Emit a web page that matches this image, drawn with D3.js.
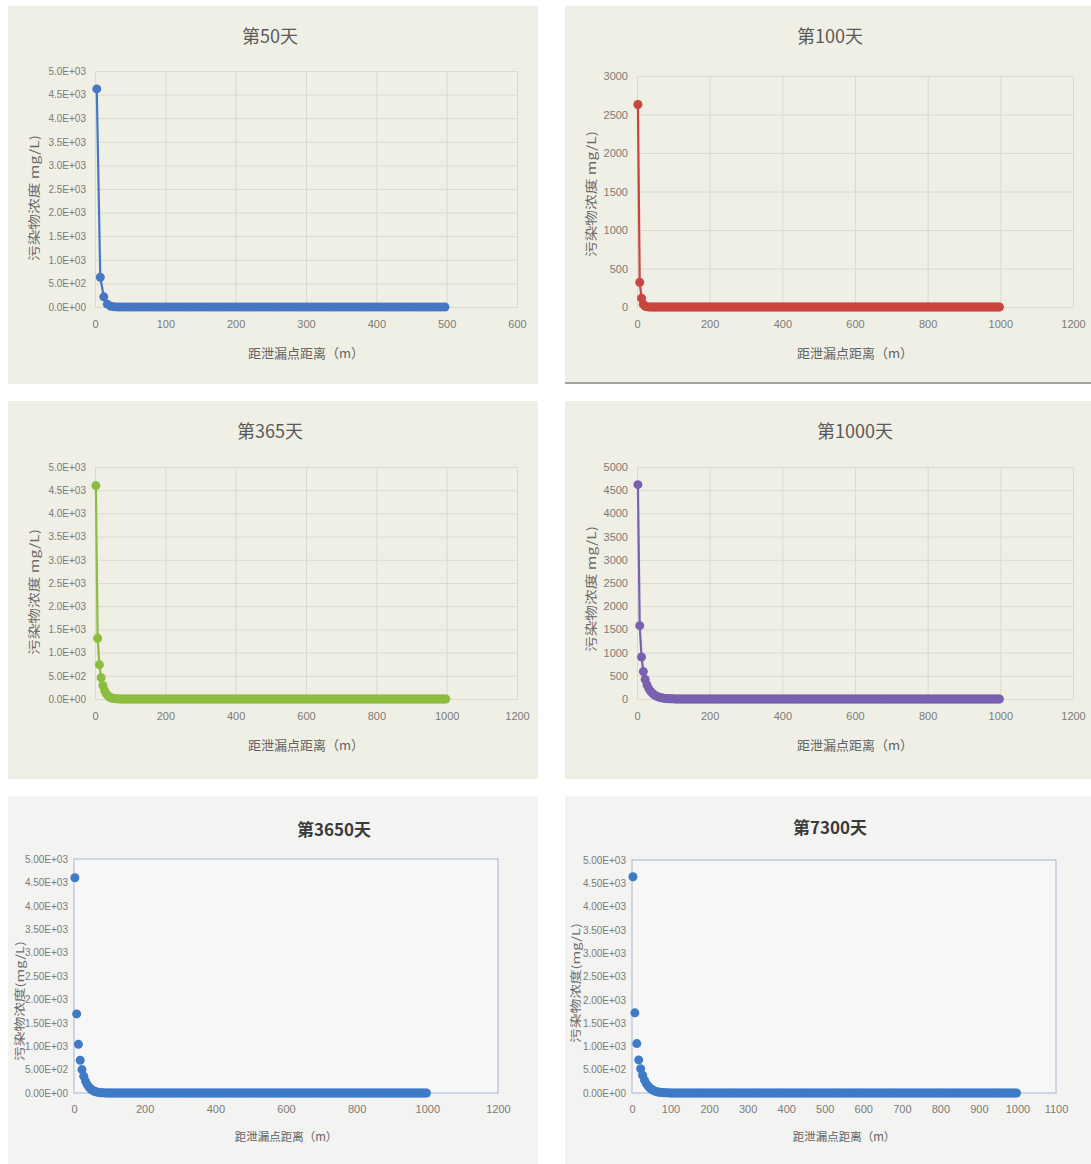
<!DOCTYPE html>
<html>
<head>
<meta charset="utf-8">
<script src="https://cdn.jsdelivr.net/npm/d3@7"></script>
<style>
  body { margin: 0; background: #ffffff; }
  svg { display: block; }
</style>
</head>
<body>
<svg id="chart" width="1091" height="1164"></svg>
<script>
// Pollutant concentration (mg/L) along the flow path, sampled every 5 m,
// first sample 2.5 m from the leak point.
const firstDistance = 2.5;
const distanceStep = 5;

const day50 = [
  4620,630,215,60,15,4,1,0,0,0,
  0,0,0,0,0,0,0,0,0,0,
  0,0,0,0,0,0,0,0,0,0,
  0,0,0,0,0,0,0,0,0,0,
  0,0,0,0,0,0,0,0,0,0,
  0,0,0,0,0,0,0,0,0,0,
  0,0,0,0,0,0,0,0,0,0,
  0,0,0,0,0,0,0,0,0,0,
  0,0,0,0,0,0,0,0,0,0,
  0,0,0,0,0,0,0,0,0,0
];

const day100 = [
  2630,320,115,35,10,3,1,0,0,0,
  0,0,0,0,0,0,0,0,0,0,
  0,0,0,0,0,0,0,0,0,0,
  0,0,0,0,0,0,0,0,0,0,
  0,0,0,0,0,0,0,0,0,0,
  0,0,0,0,0,0,0,0,0,0,
  0,0,0,0,0,0,0,0,0,0,
  0,0,0,0,0,0,0,0,0,0,
  0,0,0,0,0,0,0,0,0,0,
  0,0,0,0,0,0,0,0,0,0,
  0,0,0,0,0,0,0,0,0,0,
  0,0,0,0,0,0,0,0,0,0,
  0,0,0,0,0,0,0,0,0,0,
  0,0,0,0,0,0,0,0,0,0,
  0,0,0,0,0,0,0,0,0,0,
  0,0,0,0,0,0,0,0,0,0,
  0,0,0,0,0,0,0,0,0,0,
  0,0,0,0,0,0,0,0,0,0,
  0,0,0,0,0,0,0,0,0,0,
  0,0,0,0,0,0,0,0,0,0
];

const day365 = [
  4600,1310,740,460,290,180,110,65,38,22,
  12,7,4,2,1,0,0,0,0,0,
  0,0,0,0,0,0,0,0,0,0,
  0,0,0,0,0,0,0,0,0,0,
  0,0,0,0,0,0,0,0,0,0,
  0,0,0,0,0,0,0,0,0,0,
  0,0,0,0,0,0,0,0,0,0,
  0,0,0,0,0,0,0,0,0,0,
  0,0,0,0,0,0,0,0,0,0,
  0,0,0,0,0,0,0,0,0,0,
  0,0,0,0,0,0,0,0,0,0,
  0,0,0,0,0,0,0,0,0,0,
  0,0,0,0,0,0,0,0,0,0,
  0,0,0,0,0,0,0,0,0,0,
  0,0,0,0,0,0,0,0,0,0,
  0,0,0,0,0,0,0,0,0,0,
  0,0,0,0,0,0,0,0,0,0,
  0,0,0,0,0,0,0,0,0,0,
  0,0,0,0,0,0,0,0,0,0,
  0,0,0,0,0,0,0,0,0,0
];

const day1000 = [
  4620,1580,905,590,420,305,225,165,122,90,
  66,48,35,25,18,13,9,6,4,3,
  2,1,1,0,0,0,0,0,0,0,
  0,0,0,0,0,0,0,0,0,0,
  0,0,0,0,0,0,0,0,0,0,
  0,0,0,0,0,0,0,0,0,0,
  0,0,0,0,0,0,0,0,0,0,
  0,0,0,0,0,0,0,0,0,0,
  0,0,0,0,0,0,0,0,0,0,
  0,0,0,0,0,0,0,0,0,0,
  0,0,0,0,0,0,0,0,0,0,
  0,0,0,0,0,0,0,0,0,0,
  0,0,0,0,0,0,0,0,0,0,
  0,0,0,0,0,0,0,0,0,0,
  0,0,0,0,0,0,0,0,0,0,
  0,0,0,0,0,0,0,0,0,0,
  0,0,0,0,0,0,0,0,0,0,
  0,0,0,0,0,0,0,0,0,0,
  0,0,0,0,0,0,0,0,0,0,
  0,0,0,0,0,0,0,0,0,0
];

const day3650 = [
  4600,1690,1040,700,500,360,255,180,125,85,
  57,38,25,16,10,6,4,2,1,0,
  0,0,0,0,0,0,0,0,0,0,
  0,0,0,0,0,0,0,0,0,0,
  0,0,0,0,0,0,0,0,0,0,
  0,0,0,0,0,0,0,0,0,0,
  0,0,0,0,0,0,0,0,0,0,
  0,0,0,0,0,0,0,0,0,0,
  0,0,0,0,0,0,0,0,0,0,
  0,0,0,0,0,0,0,0,0,0,
  0,0,0,0,0,0,0,0,0,0,
  0,0,0,0,0,0,0,0,0,0,
  0,0,0,0,0,0,0,0,0,0,
  0,0,0,0,0,0,0,0,0,0,
  0,0,0,0,0,0,0,0,0,0,
  0,0,0,0,0,0,0,0,0,0,
  0,0,0,0,0,0,0,0,0,0,
  0,0,0,0,0,0,0,0,0,0,
  0,0,0,0,0,0,0,0,0,0,
  0,0,0,0,0,0,0,0,0,0
];

const day7300 = [
  4640,1720,1060,710,520,380,275,195,140,100,
  70,48,33,22,15,10,6,4,3,2,
  1,0,0,0,0,0,0,0,0,0,
  0,0,0,0,0,0,0,0,0,0,
  0,0,0,0,0,0,0,0,0,0,
  0,0,0,0,0,0,0,0,0,0,
  0,0,0,0,0,0,0,0,0,0,
  0,0,0,0,0,0,0,0,0,0,
  0,0,0,0,0,0,0,0,0,0,
  0,0,0,0,0,0,0,0,0,0,
  0,0,0,0,0,0,0,0,0,0,
  0,0,0,0,0,0,0,0,0,0,
  0,0,0,0,0,0,0,0,0,0,
  0,0,0,0,0,0,0,0,0,0,
  0,0,0,0,0,0,0,0,0,0,
  0,0,0,0,0,0,0,0,0,0,
  0,0,0,0,0,0,0,0,0,0,
  0,0,0,0,0,0,0,0,0,0,
  0,0,0,0,0,0,0,0,0,0,
  0,0,0,0,0,0,0,0,0,0
];

// Axis tick values
const yTicks5000 = [0,500,1000,1500,2000,2500,3000,3500,4000,4500,5000];
const yTicks3000 = [0,500,1000,1500,2000,2500,3000];
const xTicks600  = [0,100,200,300,400,500,600];
const xTicks1200 = [0,200,400,600,800,1000,1200];
const xTicks1100 = [0,100,200,300,400,500,600,700,800,900,1000,1100];

const xAxisTitle = "距泄漏点距离（m）";

// Scientific notation in spreadsheet style: 5.0E+03
function sci(digits) {
  return v => {
    const [m, e] = v.toExponential(digits).split("e");
    const n = Math.abs(+e);
    return m + "E" + (+e < 0 ? "-" : "+") + String(n).padStart(2, "0");
  };
}
const plain = d3.format("d");

const panels = [
  { title: "第50天", values: day50, color: "#4677c4", theme: "cream",
    frame: [8, 6, 530, 378], plot: [95, 71, 517, 307],
    xMax: 600, xTicks: xTicks600, yMax: 5000, yTicks: yTicks5000, fmt: sci(1),
    titleAt: [270, 35], yTitle: "污染物浓度 mg/L)", yTitleAt: [33, 198] },
  { title: "第100天", values: day100, color: "#c8463f", theme: "cream",
    frame: [565, 6, 526, 376], plot: [637, 76, 1073, 307],
    xMax: 1200, xTicks: xTicks1200, yMax: 3000, yTicks: yTicks3000, fmt: plain,
    titleAt: [830, 35], yTitle: "污染物浓度 mg/L)", yTitleAt: [590, 194], shadow: true },
  { title: "第365天", values: day365, color: "#8cbd3f", theme: "cream",
    frame: [8, 401, 530, 378], plot: [95, 467, 517, 699],
    xMax: 1200, xTicks: xTicks1200, yMax: 5000, yTicks: yTicks5000, fmt: sci(1),
    titleAt: [270, 430], yTitle: "污染物浓度 mg/L)", yTitleAt: [33, 592] },
  { title: "第1000天", values: day1000, color: "#7a60b0", theme: "cream",
    frame: [565, 401, 526, 378], plot: [637, 467, 1073, 699],
    xMax: 1200, xTicks: xTicks1200, yMax: 5000, yTicks: yTicks5000, fmt: plain,
    titleAt: [855, 430], yTitle: "污染物浓度 mg/L)", yTitleAt: [590, 589] },
  { title: "第3650天", values: day3650, color: "#3e7ac6", theme: "plain",
    frame: [8, 796, 530, 368], plot: [74, 859, 498, 1093],
    xMax: 1200, xTicks: xTicks1200, yMax: 5000, yTicks: yTicks5000, fmt: sci(2),
    titleAt: [334, 828], yTitle: "污染物浓度(mg/L)", yTitleAt: [19, 1001] },
  { title: "第7300天", values: day7300, color: "#3e7ac6", theme: "plain",
    frame: [565, 796, 526, 368], plot: [632, 860, 1056, 1093],
    xMax: 1100, xTicks: xTicks1100, yMax: 5000, yTicks: yTicks5000, fmt: sci(2),
    titleAt: [830, 826], yTitle: "污染物浓度(mg/L)", yTitleAt: [575, 983] }
];

const svg = d3.select("#chart");
const latin = "'Liberation Sans', Arial, sans-serif";
const cjk = "'Noto Sans CJK SC', 'Noto Sans', sans-serif";

panels.forEach(p => {
  const cream = p.theme === "cream";
  const [fx, fy, fw, fh] = p.frame;
  const [l, t, r, b] = p.plot;
  const g = svg.append("g");

  g.append("rect").attr("x", fx).attr("y", fy).attr("width", fw).attr("height", fh)
    .attr("fill", cream ? "#f0efe5" : "#f3f3f1");
  if (p.shadow) {
    g.append("rect").attr("x", fx).attr("y", fy + fh).attr("width", fw).attr("height", 2)
      .attr("fill", "#a3a3a0");
  }

  const x = d3.scaleLinear().domain([0, p.xMax]).range([l, r]);
  const y = d3.scaleLinear().domain([0, p.yMax]).range([b, t]);

  if (cream) {
    // light gridlines at every tick
    const gy = g.append("g").attr("transform", `translate(${l},0)`)
      .call(d3.axisLeft(y).tickValues(p.yTicks).tickSize(-(r - l)).tickFormat(""));
    const gx = g.append("g").attr("transform", `translate(0,${b})`)
      .call(d3.axisBottom(x).tickValues(p.xTicks).tickSize(-(b - t)).tickFormat(""));
    [gy, gx].forEach(a => {
      a.select(".domain").remove();
      a.selectAll(".tick line").attr("stroke", "#dadad0").attr("stroke-width", 1);
    });
  } else {
    g.append("rect").attr("x", l).attr("y", t).attr("width", r - l).attr("height", b - t)
      .attr("fill", "#f7f7f7").attr("stroke", "#b3c0d8").attr("stroke-width", 1.2);
  }

  // tick labels
  const ay = g.append("g").attr("transform", `translate(${l},0)`)
    .call(d3.axisLeft(y).tickValues(p.yTicks).tickFormat(p.fmt).tickSize(0).tickPadding(cream ? 9 : 6));
  const ax = g.append("g").attr("transform", `translate(0,${b})`)
    .call(d3.axisBottom(x).tickValues(p.xTicks).tickFormat(plain).tickSize(0).tickPadding(cream ? 13 : 12));
  [ay, ax].forEach(a => {
    a.select(".domain").remove();
    a.selectAll("text").attr("fill", "#7b7b78").attr("font-family", latin)
      .attr("font-size", p.fmt === plain ? 11 : 10);
  });
  ax.selectAll("text").attr("font-size", 11);

  // titles
  g.append("text").attr("x", p.titleAt[0]).attr("y", p.titleAt[1])
    .attr("text-anchor", "middle").attr("dominant-baseline", "central")
    .attr("font-family", cjk).attr("font-size", cream ? 18 : 17)
    .attr("font-weight", cream ? 400 : 700)
    .attr("fill", cream ? "#5a5a58" : "#3a3a3a").text(p.title);

  g.append("text").attr("x", (l + r) / 2).attr("y", b + (cream ? 45 : 43))
    .attr("text-anchor", "middle").attr("dominant-baseline", "central")
    .attr("font-family", cjk).attr("font-size", cream ? 13 : 11.5)
    .attr("fill", "#626260").text(xAxisTitle);

  g.append("text")
    .attr("transform", `translate(${p.yTitleAt[0]},${p.yTitleAt[1]}) rotate(-90)`)
    .attr("text-anchor", "middle").attr("dominant-baseline", "central")
    .attr("font-family", cjk).attr("font-size", cream ? 12 : 11)
    .attr("textLength", cream ? 126 : 120).attr("lengthAdjust", "spacingAndGlyphs")
    .attr("fill", "#6a6a68").text(p.yTitle);

  // series
  const pts = p.values.map((c, i) => ({ d: firstDistance + i * distanceStep, c }));
  if (cream) {
    g.append("path").datum(pts)
      .attr("d", d3.line().x(d => x(d.d)).y(d => y(d.c)))
      .attr("fill", "none").attr("stroke", p.color).attr("stroke-width", 2.2);
  }
  g.append("g").selectAll("circle").data(pts).join("circle")
    .attr("cx", d => x(d.d)).attr("cy", d => y(d.c))
    .attr("r", 4.5).attr("fill", p.color);
});
</script>
</body>
</html>
